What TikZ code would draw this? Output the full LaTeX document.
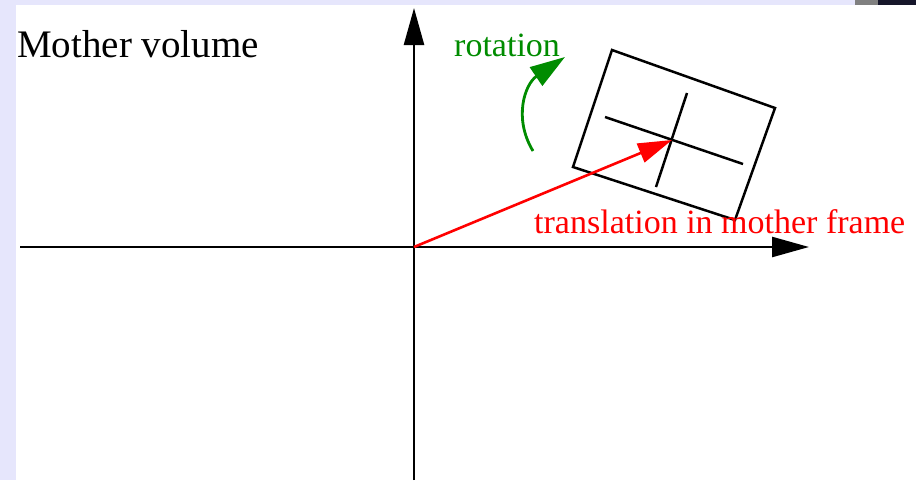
\documentclass[tikz,border=0pt]{standalone}
\usepackage{fontspec}
\setmainfont{Liberation Serif}
\usetikzlibrary{arrows.meta}
\definecolor{lav}{RGB}{230,230,252}
\definecolor{rotgreen}{RGB}{0,140,0}
\definecolor{navy}{RGB}{22,22,42}
\tikzset{
  axis/.style={line width=2.5pt,-{Triangle[length=37pt,width=20pt]}},
  plain/.style={line width=2.5pt},
  redarrow/.style={red,line width=2.6pt,-{Triangle[length=34pt,width=20pt]}},
  greenarrow/.style={rotgreen,line width=2.8pt,-{Triangle[length=35pt,width=22pt]}},
  lbl/.style={inner sep=0pt,anchor=base west}
}
\begin{document}
\begin{tikzpicture}[x=1pt,y=-1pt]
\useasboundingbox (0,0) rectangle (916,480);
% background
\fill[lav] (0,0) rectangle (916,480);
\fill[white] (16,5) rectangle (916,480);
\fill[white] (855,0) rectangle (916,5);
\fill[gray] (855,0) rectangle (878,5);
\fill[navy] (878,0) rectangle (916,5);
% axes
\coordinate (xl) at (20,247);
\coordinate (xr) at (809,247);
\coordinate (yb) at (414,480);
\coordinate (yt) at (414,8);
\coordinate (o) at (414,247);
\draw[axis] (xl) -- (xr);
\draw[axis] (yb) -- (yt);
% rotated box
\coordinate (tl) at (612,50);
\coordinate (tr) at (775,108);
\coordinate (br) at (735,220);
\coordinate (bl) at (573,167);
\draw[plain,line join=miter] (tl) -- (tr) -- (br) -- (bl) -- cycle;
\coordinate (ha) at (605,117);
\coordinate (hb) at (743,164);
\coordinate (va) at (687,93);
\coordinate (vb) at (656,187);
\draw[plain] (ha) -- (hb);
\draw[plain] (va) -- (vb);
% translation vector
\coordinate (c) at (672,140);
\draw[redarrow] (o) -- (c);
% rotation arrow
\coordinate (ra) at (533,151);
\coordinate (rb) at (565,57);
\draw[greenarrow] (ra) .. controls (513,118) and (525,84) .. (rb);
% labels
\node[lbl,font=\fontsize{39}{39}\selectfont] (mv) at (17,57) {Mother volume};
\node[lbl,rotgreen,font=\fontsize{34}{34}\selectfont] (rot) at (454,56) {rotation};
\node[lbl,red,font=\fontsize{34}{34}\selectfont] (trl) at (534,233) {translation in mother frame};
\end{tikzpicture}
\end{document}
